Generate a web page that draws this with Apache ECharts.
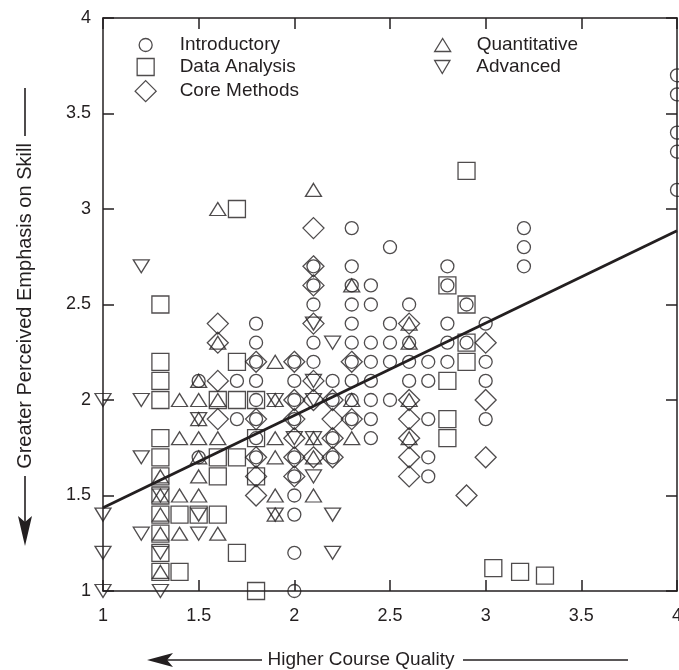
<!DOCTYPE html>
<html>
<head>
<meta charset="utf-8">
<script src="https://cdn.jsdelivr.net/npm/echarts@6/dist/echarts.min.js"></script>
<style>
html,body{margin:0;padding:0;background:#fff;}
#chart{width:679px;height:670px;}
</style>
</head>
<body>
<div id="chart"></div>
<script>
// ---- data ----
const xTicks = [1, 1.5, 2, 2.5, 3, 3.5, 4];
const yTicks = [1, 1.5, 2, 2.5, 3, 3.5, 4];

const introductory = [
  [1.5,2.1],[1.5,1.7],[1.7,2.1],[1.7,1.9],
  [1.8,2.4],[1.8,2.3],[1.8,2.2],[1.8,2.1],[1.8,2.0],[1.8,1.9],[1.8,1.8],[1.8,1.7],
  [2.0,2.2],[2.0,2.1],[2.0,2.0],[2.0,1.9],[2.0,1.7],[2.0,1.6],[2.0,1.5],[2.0,1.4],[2.0,1.2],[2.0,1.0],
  [2.1,2.7],[2.1,2.6],[2.1,2.5],[2.1,2.3],[2.1,2.2],
  [2.2,2.1],[2.2,2.0],[2.2,1.8],[2.2,1.7],
  [2.3,2.9],[2.3,2.7],[2.3,2.6],[2.3,2.5],[2.3,2.4],[2.3,2.3],[2.3,2.2],[2.3,2.1],[2.3,2.0],[2.3,1.9],
  [2.4,2.6],[2.4,2.5],[2.4,2.3],[2.4,2.2],[2.4,2.1],[2.4,2.0],[2.4,1.9],[2.4,1.8],
  [2.5,2.8],[2.5,2.4],[2.5,2.3],[2.5,2.2],[2.5,2.0],
  [2.6,2.5],[2.6,2.3],[2.6,2.2],[2.6,2.1],
  [2.7,2.2],[2.7,2.1],[2.7,1.9],[2.7,1.7],[2.7,1.6],
  [2.8,2.7],[2.8,2.6],[2.8,2.4],[2.8,2.3],[2.8,2.2],
  [2.9,2.5],[2.9,2.3],
  [3.0,2.4],[3.0,2.2],[3.0,2.1],[3.0,1.9],
  [3.2,2.9],[3.2,2.8],[3.2,2.7],
  [4.0,3.1],[4.0,3.3],[4.0,3.4],[4.0,3.6],[4.0,3.7]
];
const dataAnalysis = [
  [1.3,2.5],[1.3,2.2],[1.3,2.1],[1.3,2.0],[1.3,1.8],[1.3,1.7],[1.3,1.6],[1.3,1.5],[1.3,1.4],[1.3,1.3],[1.3,1.2],[1.3,1.1],
  [1.4,1.4],[1.4,1.1],
  [1.5,1.4],
  [1.6,2.0],[1.6,1.7],[1.6,1.6],[1.6,1.4],
  [1.7,3.0],[1.7,2.2],[1.7,2.0],[1.7,1.7],[1.7,1.2],
  [1.8,2.0],[1.8,1.8],[1.8,1.6],[1.8,1.0],
  [2.8,2.6],[2.8,2.1],[2.8,1.9],[2.8,1.8],
  [2.9,3.2],[2.9,2.5],[2.9,2.3],[2.9,2.2],
  [3.04,1.12],[3.18,1.10],[3.31,1.08]
];
const coreMethods = [
  [1.6,2.4],[1.6,2.3],[1.6,2.1],[1.6,1.9],
  [1.8,2.2],[1.8,1.9],[1.8,1.7],[1.8,1.6],[1.8,1.5],
  [2.0,2.2],[2.0,2.0],[2.0,1.9],[2.0,1.8],[2.0,1.7],[2.0,1.6],
  [2.1,2.9],[2.1,2.7],[2.1,2.6],[2.1,2.4],[2.1,2.1],[2.1,2.0],[2.1,1.7],
  [2.2,2.0],[2.2,1.9],[2.2,1.8],[2.2,1.7],
  [2.3,2.2],[2.3,1.9],
  [2.6,2.4],[2.6,2.0],[2.6,1.9],[2.6,1.8],[2.6,1.7],[2.6,1.6],
  [2.9,1.5],
  [3.0,2.3],[3.0,2.0],[3.0,1.7]
];
const quantitative = [
  [1.3,1.6],[1.3,1.5],[1.3,1.4],[1.3,1.3],[1.3,1.1],
  [1.4,2.0],[1.4,1.8],[1.4,1.5],[1.4,1.3],
  [1.5,2.1],[1.5,2.0],[1.5,1.9],[1.5,1.8],[1.5,1.7],[1.5,1.6],[1.5,1.5],
  [1.6,3.0],[1.6,2.3],[1.6,2.0],[1.6,1.8],[1.6,1.3],
  [1.9,2.2],[1.9,2.0],[1.9,1.8],[1.9,1.7],[1.9,1.5],[1.9,1.4],
  [2.1,3.1],[2.1,1.8],[2.1,1.7],[2.1,1.5],
  [2.3,2.6],[2.3,2.0],[2.3,1.8],
  [2.6,2.4],[2.6,2.3],[2.6,2.0],[2.6,1.8]
];
const advanced = [
  [1.0,2.0],[1.0,1.4],[1.0,1.2],[1.0,1.0],
  [1.2,2.7],[1.2,2.0],[1.2,1.7],[1.2,1.3],
  [1.3,1.5],[1.3,1.2],[1.3,1.0],
  [1.5,1.9],[1.5,1.4],[1.5,1.3],
  [1.9,2.0],[1.9,1.4],
  [2.0,1.8],
  [2.1,2.4],[2.1,2.1],[2.1,2.0],[2.1,1.8],[2.1,1.6],
  [2.2,2.3],[2.2,1.4],[2.2,1.2]
];
const fitLine = [[1, 1.436], [4, 2.886]];

const seriesNames = ['Introductory','Data Analysis','Core Methods','Quantitative','Advanced'];

// ---- styling ----
const INK = '#231f20';
const FONT = '"Liberation Sans", Arial, sans-serif';
const DOWN_TRI = 'path://M0,0L20,0L10,17Z';
const markerStyle = {color: 'rgba(0,0,0,0)', borderColor: INK, borderWidth: 1.3};

const symbolSpec = {
  'Introductory':  {symbol: 'circle',   size: [13,13]},
  'Data Analysis': {symbol: 'rect',     size: [17,17]},
  'Core Methods':  {symbol: 'diamond',  size: [21,21]},
  'Quantitative':  {symbol: 'triangle', size: [16,13]},
  'Advanced':      {symbol: DOWN_TRI,   size: [16,13]}
};
const seriesData = {
  'Introductory': introductory,
  'Data Analysis': dataAnalysis,
  'Core Methods': coreMethods,
  'Quantitative': quantitative,
  'Advanced': advanced
};

const legendPos = {
  'Introductory':  [145, 45],
  'Data Analysis': [145, 67],
  'Core Methods':  [145, 90],
  'Quantitative':  [442, 45],
  'Advanced':      [442, 67]
};
const TEXT_X_OFFSET = 34; // marker centre -> text start

const legends = seriesNames.map(function (n) {
  const s = symbolSpec[n];
  const w = s.size[0], h = s.size[1];
  return {
    data: [{name: n, icon: s.symbol, itemStyle: markerStyle}],
    left: legendPos[n][0] - w / 2,
    top: legendPos[n][1] - 10,
    padding: 0,
    itemWidth: w,
    itemHeight: h,
    selectedMode: false,
    textStyle: {
      color: INK, fontFamily: FONT, fontSize: 19, lineHeight: 20,
      padding: [0, 0, 0, TEXT_X_OFFSET - w / 2 - 5]
    }
  };
});

const scatterSeries = seriesNames.map(function (n) {
  return {
    name: n,
    type: 'scatter',
    data: seriesData[n],
    symbol: symbolSpec[n].symbol,
    symbolSize: symbolSpec[n].size,
    itemStyle: markerStyle,
    clip: false,
    z: 2,
    emphasis: {disabled: true}
  };
});

const axisCommon = {
  type: 'value', min: 1, max: 4, interval: 0.5,
  axisLine: {show: true, onZero: false, lineStyle: {color: INK, width: 1.5}},
  axisTick: {show: true, inside: true, length: 11, lineStyle: {color: INK, width: 1.5}},
  splitLine: {show: false}
};

const chart = echarts.init(document.getElementById('chart'), null, {renderer: 'canvas'});
chart.setOption({
  backgroundColor: '#fff',
  animation: false,
  grid: {left: 103, right: 2, top: 18, bottom: 79, containLabel: false, outerBoundsMode: 'none'},
  legend: legends,
  xAxis: [
    Object.assign({}, axisCommon, {
      position: 'bottom',
      axisLabel: {show: true, margin: 16, color: INK, fontFamily: FONT, fontSize: 18,
        formatter: function (v) { return xTicks.indexOf(v) >= 0 ? String(v) : ''; }}
    }),
    Object.assign({}, axisCommon, {position: 'top', axisLabel: {show: false}})
  ],
  yAxis: [
    Object.assign({}, axisCommon, {
      position: 'left',
      axisLabel: {show: true, margin: 12, color: INK, fontFamily: FONT, fontSize: 18,
        formatter: function (v) { return yTicks.indexOf(v) >= 0 ? String(v) : ''; }}
    }),
    Object.assign({}, axisCommon, {position: 'right', axisLabel: {show: false}})
  ],
  series: scatterSeries.concat([{
    name: 'fit', type: 'line', data: fitLine, symbol: 'none', z: 5,
    lineStyle: {color: INK, width: 2.8}, silent: true
  }]),
  graphic: [
    // x-axis title with arrows
    {type: 'text', x: 361, y: 660, style: {text: 'Higher Course Quality', fill: INK,
      font: '19px ' + FONT, align: 'center', verticalAlign: 'middle'}},
    {type: 'line', shape: {x1: 166, y1: 660, x2: 262, y2: 660}, style: {stroke: INK, lineWidth: 1.6}},
    {type: 'polygon', shape: {points: [[147,660],[173,653],[167,660],[173,667]]}, style: {fill: INK}},
    {type: 'line', shape: {x1: 463, y1: 660, x2: 628, y2: 660}, style: {stroke: INK, lineWidth: 1.6}},
    // y-axis title with arrows
    {type: 'text', x: 25, y: 306, rotation: Math.PI / 2, style: {text: 'Greater Perceived Emphasis on Skill',
      fill: INK, font: '20px ' + FONT, align: 'center', verticalAlign: 'middle'}},
    {type: 'line', shape: {x1: 25, y1: 88, x2: 25, y2: 136}, style: {stroke: INK, lineWidth: 1.6}},
    {type: 'line', shape: {x1: 25, y1: 476, x2: 25, y2: 522}, style: {stroke: INK, lineWidth: 1.6}},
    {type: 'polygon', shape: {points: [[25,546],[18,516],[25,522],[32,516]]}, style: {fill: INK}}
  ]
});
</script>
</body>
</html>
